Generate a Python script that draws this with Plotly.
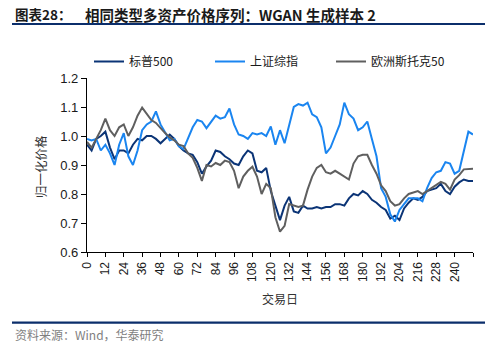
import plotly.graph_objects as go

days = list(range(0, 253, 3))

spx = [0.97, 0.95, 0.99, 1.00, 1.015, 0.96, 0.92, 0.95, 0.95, 0.94,
       0.97, 0.99, 0.985, 1.00, 1.00, 0.99, 0.975, 0.99, 1.005, 0.99,
       0.965, 0.95, 0.94, 0.935, 0.91, 0.87, 0.895, 0.915, 0.95, 0.945,
       0.93, 0.92, 0.905, 0.90, 0.93, 0.95, 0.94, 0.88, 0.875, 0.89,
       0.81, 0.76, 0.71, 0.76, 0.79, 0.74, 0.735, 0.76, 0.75, 0.75,
       0.755, 0.75, 0.755, 0.755, 0.765, 0.765, 0.76, 0.785, 0.80, 0.795,
       0.81, 0.80, 0.78, 0.77, 0.755, 0.745, 0.715, 0.725, 0.71, 0.75,
       0.77, 0.785, 0.78, 0.79, 0.81, 0.815, 0.82, 0.835, 0.81, 0.80,
       0.825, 0.84, 0.85, 0.845, 0.845]

sse = [0.99, 0.985, 0.99, 0.95, 0.97, 0.94, 0.90, 0.97, 1.01, 0.93,
       0.90, 0.95, 1.02, 1.04, 1.05, 1.085, 1.04, 1.01, 0.985, 0.99,
       0.965, 0.955, 0.99, 1.03, 1.055, 1.05, 1.027, 1.05, 1.07, 1.06,
       1.065, 1.095, 1.04, 1.005, 1.00, 0.99, 1.01, 1.005, 1.01, 1.00,
       1.033, 0.97, 1.02, 0.975, 1.04, 1.10, 1.11, 1.105, 1.115, 1.075,
       1.065, 1.03, 0.94, 0.96, 1.00, 1.04, 1.115, 1.075, 1.06, 1.02,
       1.03, 1.05, 0.99, 0.93, 0.82, 0.79, 0.73, 0.705, 0.745, 0.765,
       0.785, 0.785, 0.785, 0.775, 0.82, 0.855, 0.875, 0.88, 0.91, 0.905,
       0.87, 0.88, 0.95, 1.015, 1.005]

stoxx = [0.98, 0.96, 0.99, 1.02, 1.06, 1.02, 1.00, 1.03, 1.04, 1.00,
         1.03, 1.07, 1.098, 1.075, 1.055, 1.045, 1.027, 1.01, 0.995, 0.985,
         0.97, 0.965, 0.94, 0.925, 0.89, 0.845, 0.90, 0.895, 0.907, 0.90,
         0.915, 0.91, 0.88, 0.82, 0.86, 0.88, 0.894, 0.86, 0.80, 0.835,
         0.82, 0.72, 0.67, 0.69, 0.765, 0.76, 0.755, 0.76, 0.815, 0.86,
         0.89, 0.90, 0.875, 0.87, 0.88, 0.87, 0.86, 0.85, 0.905, 0.93,
         0.935, 0.935, 0.90, 0.87, 0.83, 0.81, 0.775, 0.76, 0.765, 0.785,
         0.80, 0.805, 0.81, 0.80, 0.81, 0.82, 0.83, 0.842, 0.835, 0.815,
         0.85, 0.865, 0.885, 0.885, 0.887]

names = ["标普500", "上证综指", "欧洲斯托克50"]
colors = ["#0b3476", "#1a85f0", "#5f5f5f"]

x_tickvals = list(range(0, 253, 12))
x_ticktext = [str(v) if v <= 240 else "" for v in x_tickvals]
y_tickvals = [0.6, 0.7, 0.8, 0.9, 1.0, 1.1, 1.2]
y_ticktext = ["0.6", "0.7", "0.8", "0.9", "1.0", "1.1", "1.2"]

W, H = 501, 349
L, R, T, B = 87, 473, 78, 252

def px(x):
    return (x - L) / (R - L)

def py(y):
    return (B - y) / (B - T)

fig = go.Figure()
for s, n, c in zip([spx, sse, stoxx], names, colors):
    fig.add_trace(go.Scatter(x=days, y=s, mode="lines", name=n,
                             line=dict(color=c, width=2)))

font_cn = "Noto Sans CJK SC"
fig.update_layout(
    width=W, height=H,
    margin=dict(l=L, r=W - R, t=T, b=H - B, pad=0),
    paper_bgcolor="white", plot_bgcolor="white",
    font=dict(family="Liberation Sans, Arial", size=12, color="#1a1a1a"),
    showlegend=True,
    legend=dict(orientation="h", x=px(89), y=py(47), xanchor="left", yanchor="top",
                entrywidth=76, entrywidthmode="pixels",
                font=dict(family=font_cn + ", Liberation Sans", size=12, color="#1a1a1a"),
                bgcolor="rgba(0,0,0,0)", tracegroupgap=0, itemwidth=30),
    xaxis=dict(range=[0, 252], tickmode="array", tickvals=x_tickvals, ticktext=x_ticktext,
               tickangle=-90, ticks="outside", ticklen=4, tickcolor="black",
               showline=True, linecolor="black", linewidth=1.3, showgrid=False,
               zeroline=False,
               tickfont=dict(family="Liberation Sans, Arial", size=12, color="#1a1a1a")),
    yaxis=dict(range=[0.6, 1.2], tickmode="array", tickvals=y_tickvals, ticktext=y_ticktext,
               ticks="outside", ticklen=5, tickcolor="black",
               showline=True, linecolor="black", linewidth=1.3, showgrid=False,
               zeroline=False,
               tickfont=dict(family="Liberation Sans, Arial", size=13, color="#1a1a1a")),
)

fig.add_annotation(x=px(13), y=py(14), xref="paper", yref="paper", xanchor="left", yanchor="middle",
                   text="<b>图表28：</b>", showarrow=False,
                   font=dict(family=font_cn, size=13.5, color="#1a1a1a"))
fig.add_annotation(x=px(83), y=py(14), xref="paper", yref="paper", xanchor="left", yanchor="middle",
                   text="<b>相同类型多资产价格序列：WGAN 生成样本 2</b>", showarrow=False,
                   font=dict(family=font_cn, size=14.5, color="#1a1a1a"))
fig.add_annotation(x=px(40), y=py(167), xref="paper", yref="paper", xanchor="center", yanchor="middle",
                   text="归一化价格", textangle=-90, showarrow=False,
                   font=dict(family=font_cn, size=12.5, color="#333333"))
fig.add_annotation(x=px(280), y=py(298), xref="paper", yref="paper", xanchor="center", yanchor="middle",
                   text="交易日", showarrow=False,
                   font=dict(family=font_cn, size=12, color="#333333"))
fig.add_annotation(x=px(13), y=py(334), xref="paper", yref="paper", xanchor="left", yanchor="middle",
                   text="资料来源：Wind，华泰研究", showarrow=False,
                   font=dict(family=font_cn, size=12, color="#7f7f7f"))

for yy in (24, 322.7):
    fig.add_shape(type="line", xref="paper", yref="paper", x0=px(12), x1=px(485), y0=py(yy), y1=py(yy),
                  line=dict(color="#0b2e6b", width=2.2))

fig.write_html("out.html")
